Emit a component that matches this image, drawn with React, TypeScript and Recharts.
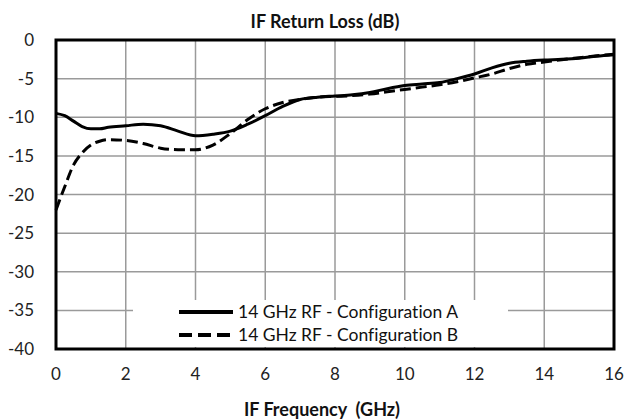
import {
  LineChart,
  Line,
  XAxis,
  YAxis,
  CartesianGrid,
  Legend,
  ReferenceArea,
} from "recharts";

const freqGHz = [
  0, 0.25, 0.5, 0.75, 1, 1.25, 1.5, 2, 2.5, 3, 3.5, 4, 4.5, 5, 5.5, 6, 6.5, 7,
  7.5, 8, 8.5, 9, 9.5, 10, 10.5, 11, 11.5, 12, 12.5, 13, 13.5, 14, 14.5, 15,
  15.5, 16,
];

const configA = [
  -9.5, -9.8, -10.5, -11.2, -11.5, -11.5, -11.3, -11.1, -10.9, -11.1, -11.8,
  -12.4, -12.2, -11.8, -10.9, -9.8, -8.6, -7.7, -7.4, -7.25, -7.1, -6.8, -6.3,
  -5.9, -5.7, -5.5, -5.0, -4.4, -3.6, -3.0, -2.75, -2.6, -2.5, -2.35, -2.1,
  -1.9,
];

const configB = [
  -22, -19, -16.2, -14.6, -13.6, -13.1, -12.9, -13.0, -13.4, -14.0, -14.2,
  -14.2, -13.6, -12.1, -10.3, -8.9, -8.1, -7.7, -7.4, -7.3, -7.2, -7.0, -6.7,
  -6.4, -6.1, -5.8, -5.4, -4.9, -4.4, -3.7, -3.15, -2.85, -2.55, -2.3, -2.05,
  -1.85,
];

const xTicks = [0, 2, 4, 6, 8, 10, 12, 14, 16];
const yTicks = [0, -5, -10, -15, -20, -25, -30, -35, -40];

const series = [
  { key: "a", name: "14 GHz RF - Configuration A", dash: undefined },
  { key: "b", name: "14 GHz RF - Configuration B", dash: "11 5" },
];

const data = freqGHz.map((f, i) => ({ f, a: configA[i], b: configB[i] }));

const font = "Lato, 'Open Sans', sans-serif";

function LegendBox() {
  return (
    <div
      style={{
        background: "#fff",
        width: 375,
        height: 47,
        boxSizing: "border-box",
        paddingTop: 0,
        fontFamily: font,
        fontSize: 17.5,
        lineHeight: "23px",
        color: "#111",
        fontVariantLigatures: "none",
      }}
    >
      {series.map((s) => (
        <div
          key={s.key}
          style={{ display: "flex", alignItems: "center", height: 23, marginLeft: 45 }}
        >
          <svg width={56} height={10} style={{ marginRight: 4 }}>
            <line
              x1={1}
              y1={5}
              x2={55}
              y2={5}
              stroke="#000"
              strokeWidth={4}
              strokeDasharray={s.dash ? "13 6" : undefined}
            />
          </svg>
          <span>{s.name}</span>
        </div>
      ))}
    </div>
  );
}

export default function App() {
  return (
    <div style={{ position: "absolute", left: 0, top: 0, background: "#fff" }}>
      <LineChart
        width={642}
        height={420}
        data={data}
        margin={{ top: 40, right: 28, bottom: 21, left: 0 }}
      >
        <CartesianGrid stroke="#9a9a9a" strokeWidth={1.5} />
        <XAxis
          dataKey="f"
          type="number"
          domain={[0, 16]}
          ticks={xTicks}
          height={50}
          tickLine={false}
          axisLine={false}
          tickMargin={13}
          tick={{ fill: "#222", fontSize: 17, fontFamily: font }}
        />
        <YAxis
          type="number"
          domain={[-40, 0]}
          ticks={yTicks}
          width={56}
          tickLine={false}
          axisLine={false}
          tickMargin={16}
          tick={{ fill: "#222", fontSize: 17, fontFamily: font }}
        />
        <ReferenceArea
          x1={0}
          x2={16}
          y1={-40}
          y2={0}
          fill="none"
          stroke="#000"
          strokeWidth={3}
          ifOverflow="visible"
        />
        <Legend
          layout="vertical"
          align="center"
          verticalAlign="middle"
          wrapperStyle={{ left: 133, top: 300, width: 375, height: 47 }}
          content={() => <LegendBox />}
        />
        {series.map((s) => (
          <Line
            key={s.key}
            dataKey={s.key}
            name={s.name}
            type="monotone"
            stroke="#000"
            strokeWidth={3}
            strokeDasharray={s.dash}
            dot={false}
            activeDot={false}
            isAnimationActive={false}
          />
        ))}
        <text
          x={325}
          y={28}
          textAnchor="middle"
          style={{ fontWeight: 700, fontSize: 18, fontFamily: font, fill: "#111" }}
        >
          IF Return Loss (dB)
        </text>
        <text
          x={322}
          y={416}
          textAnchor="middle"
          style={{ fontWeight: 700, fontSize: 18, fontFamily: font, fill: "#111" }}
        >
          {"IF Frequency\u00a0 (GHz)"}
        </text>
      </LineChart>
    </div>
  );
}
